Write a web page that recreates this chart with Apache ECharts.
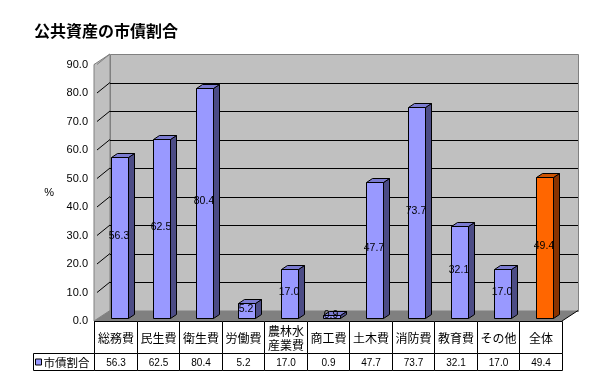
<!DOCTYPE html>
<html><head><meta charset="utf-8">
<script src="https://cdn.jsdelivr.net/npm/echarts@6/dist/echarts.min.js"></script>
<style>html,body{margin:0;padding:0;background:#fff}#c{width:608px;height:386px}</style>
</head><body><div id="c"></div>
<script>
// ---- data ----
const titleText = '公共資産の市債割合';
const categories = ['総務費', '民生費', '衛生費', '労働費', '農林水\n産業費', '商工費', '土木費', '消防費', '教育費', 'その他', '全体'];
const values = [56.3, 62.5, 80.4, 5.2, 17.0, 0.9, 47.7, 73.7, 32.1, 17.0, 49.4];
const seriesName = '市債割合';
const yTicks = [0, 10, 20, 30, 40, 50, 60, 70, 80, 90];
const yAxisName = '%';

// ---- style ----
const DEPTH = [16, -10.5];
const BAR_OFF = 0.24, BAR_DEPTH = [6, -4];
const JP = '"Noto Sans CJK JP", sans-serif';
const NUM = '"Liberation Sans", Arial, sans-serif';
const px = v => Math.round(v) + 0.5;

const chart = echarts.init(document.getElementById('c'), null, {renderer: 'canvas'});
const data = values.map((v, i) => [i, v]);

function renderWalls(params, api) {
  const cs = params.coordSys;
  const L = cs.x, R = cs.x + cs.width, T = cs.y, B = cs.y + cs.height;
  const dx = DEPTH[0], dy = DEPTH[1];
  const ch = [];
  ch.push({type: 'polygon', shape: {points: [[L, T], [L + dx, T + dy], [L + dx, B + dy], [L, B]]},
    style: {fill: '#c0c0c0', stroke: '#808080', lineWidth: 1}});
  ch.push({type: 'rect', shape: {x: px(L + dx), y: px(T + dy), width: Math.round(cs.width), height: Math.round(cs.height)},
    style: {fill: '#c0c0c0', stroke: '#808080', lineWidth: 1}});
  yTicks.forEach((t, k) => {
    if (k === 0) return;
    const y = api.coord([0, t])[1];
    const top = k === yTicks.length - 1;
    if (!top) {
      ch.push({type: 'line', shape: {x1: L + dx, y1: px(y + dy), x2: R + dx, y2: px(y + dy)},
        style: {stroke: '#000', lineWidth: 1}});
    }
    ch.push({type: 'line', shape: {x1: L + 3, y1: y, x2: L + dx, y2: y + dy},
      style: {stroke: top ? '#808080' : '#000', lineWidth: 1}});
  });
  ch.push({type: 'polygon', shape: {points: [[L, B], [L + dx, B + dy], [R + dx, B + dy], [R, B]]},
    style: {fill: '#808080', stroke: null}});
  ch.push({type: 'line', shape: {x1: R, y1: B, x2: R + dx, y2: B + dy}, style: {stroke: '#000', lineWidth: 1}});
  return {type: 'group', children: ch};
}

function renderBar(params, api) {
  const i = api.value(0), v = api.value(1);
  const p0 = api.coord([i, 0]), p1 = api.coord([i, v]);
  const band = api.size([1, 0])[0];
  const w = Math.round(band * 0.4);
  const ox = DEPTH[0] * BAR_OFF, oy = DEPTH[1] * BAR_OFF;
  const xl = px(p0[0] - w / 2 + ox), xr = xl + w;
  const yb = px(p0[1] + oy), yt = px(p1[1] + oy - 1);
  const bx = BAR_DEPTH[0], by = BAR_DEPTH[1];
  const total = categories[i] === '全体';
  const col = total ? {f: '#ff6600', s: '#8a3300', t: '#cc5200'} : {f: '#9999ff', s: '#4c4c85', t: '#7b7bd0'};
  const st = {stroke: '#000', lineWidth: 1};
  return {type: 'group', children: [
    {type: 'polygon', shape: {points: [[xr, yt], [xr + bx, yt + by], [xr + bx, yb + by], [xr, yb]]}, style: Object.assign({fill: col.s}, st)},
    {type: 'polygon', shape: {points: [[xl, yt], [xl + bx, yt + by], [xr + bx, yt + by], [xr, yt]]}, style: Object.assign({fill: col.t}, st)},
    {type: 'rect', shape: {x: xl, y: yt, width: w, height: yb - yt}, style: Object.assign({fill: col.f}, st)},
    {type: 'text', x: (xl + xr) / 2 - 1, y: (yt + yb) / 2 - 2,
      style: {text: v.toFixed(1), fill: '#000', font: '10.5px ' + NUM, align: 'center', verticalAlign: 'middle'}}
  ]};
}

function renderTable(params, api) {
  const i = api.value(0), v = api.value(1);
  const cs = params.coordSys;
  const B = cs.y + cs.height;
  const c = api.coord([i, 0]);
  const band = api.size([1, 0])[0];
  const x0 = px(c[0] - band / 2), x1 = px(c[0] + band / 2);
  const y0 = px(B), y1 = px(B + 32), y2 = px(B + 49);
  const st = {stroke: '#000', lineWidth: 1, fill: '#fff'};
  const ch = [
    {type: 'rect', shape: {x: x0, y: y0, width: x1 - x0, height: y1 - y0}, style: st},
    {type: 'rect', shape: {x: x0, y: y1, width: x1 - x0, height: y2 - y1}, style: st},
    {type: 'text', x: (x0 + x1) / 2, y: (y0 + y1) / 2 + 1,
      style: {text: categories[i], fill: '#000', font: '12px ' + JP, align: 'center', verticalAlign: 'middle', lineHeight: 14}},
    {type: 'text', x: (x0 + x1) / 2, y: (y1 + y2) / 2 + 1,
      style: {text: v.toFixed(1), fill: '#000', font: '10px ' + NUM, align: 'center', verticalAlign: 'middle'}}
  ];
  if (i === 0) {
    const lx = px(cs.x - 61);
    ch.push({type: 'rect', shape: {x: lx, y: y1, width: x0 - lx, height: y2 - y1}, style: st});
    ch.push({type: 'rect', shape: {x: lx + 2, y: (y1 + y2) / 2 - 3, width: 6, height: 6},
      style: {fill: '#9999ff', stroke: '#000', lineWidth: 1}});
    ch.push({type: 'text', x: lx + 10, y: (y1 + y2) / 2 + 1,
      style: {text: seriesName, fill: '#000', font: '11.5px ' + JP, align: 'left', verticalAlign: 'middle'}});
  }
  return {type: 'group', children: ch};
}

chart.setOption({
  animation: false,
  backgroundColor: '#fff',
  title: {text: titleText, left: 29, top: 18,
    textStyle: {fontSize: 16, fontWeight: 'bold', color: '#000', fontFamily: 'Noto Sans CJK JP'}},
  grid: {left: 94, right: 46, top: 64.5, bottom: 65, containLabel: false},
  xAxis: {type: 'category', data: categories, show: false},
  yAxis: {
    type: 'value', min: yTicks[0], max: yTicks[yTicks.length - 1], interval: yTicks[1] - yTicks[0],
    name: yAxisName, nameLocation: 'middle', nameRotate: 0, nameGap: 40,
    nameTextStyle: {fontSize: 11, color: '#000', fontFamily: 'Liberation Sans'},
    axisLine: {show: true, lineStyle: {color: '#000', width: 1}},
    axisTick: {show: true, inside: true, length: 3, lineStyle: {color: '#000'}},
    axisLabel: {formatter: v => v.toFixed(1), color: '#000', fontSize: 11, fontFamily: 'Liberation Sans', margin: 6},
    splitLine: {show: false}
  },
  series: [
    {type: 'custom', name: 'walls', data: [[0, 0]], renderItem: renderWalls, z: 1, silent: true, clip: false, encode: {x: 0, y: 1}},
    {type: 'custom', name: seriesName, data: data, renderItem: renderBar, z: 2, clip: false, encode: {x: 0, y: 1}},
    {type: 'custom', name: 'table', data: data, renderItem: renderTable, z: 3, silent: true, clip: false, encode: {x: 0, y: 1}}
  ]
});
</script></body></html>
